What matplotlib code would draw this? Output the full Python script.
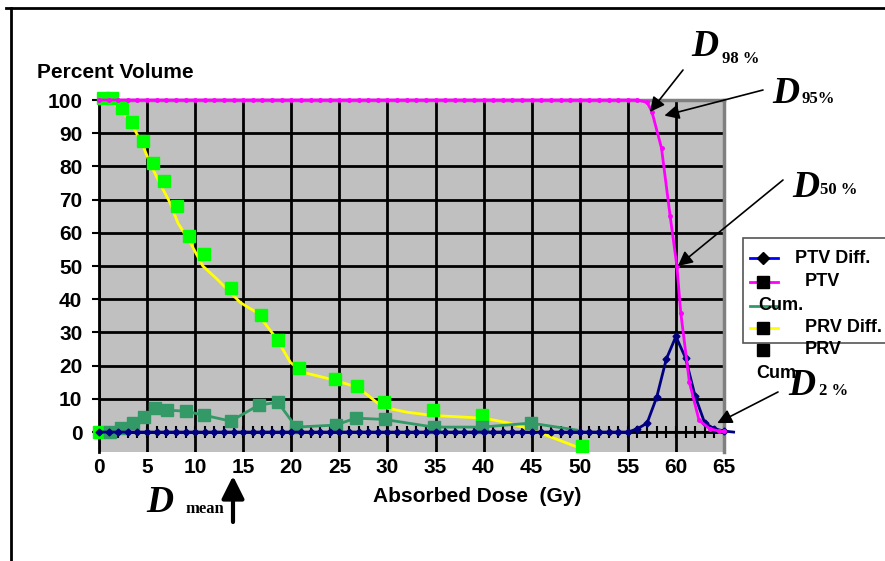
import matplotlib
matplotlib.use("Agg")
import matplotlib.pyplot as plt
from matplotlib.patches import Rectangle
from matplotlib.lines import Line2D
from matplotlib.ticker import MultipleLocator
import numpy as np

# ---- data ----
ptv_diff_x = list(range(0, 67))
ptv_diff_y = [0] * 56 + [1, 2.7, 10.5, 22, 28.8, 22.3, 10.8, 2.7, 1, 0.3, 0]

ptv_cum_x = list(range(0, 57)) + [57, 57.5, 58.5, 59.4, 60.1, 60.5, 61.4, 62.4, 63.5, 64.5, 65]
ptv_cum_y = [100] * 57 + [99.3, 96.5, 85.5, 65, 50, 36, 15, 3.6, 1, 0.3, 0.2]

prv_diff_x = [0.2, 1.1, 2.3, 3.5, 4.7, 5.8, 7.1, 9, 10.9, 13.7, 16.6, 18.6, 20.5,
              24.6, 26.7, 29.7, 34.8, 39.8, 44.9, 49.7]
prv_diff_y = [0, 0, 1.2, 2.7, 4.5, 7.2, 6.6, 6.3, 5.1, 3.3, 8.1, 9, 1.5,
              2.1, 4.2, 3.8, 1.5, 1.5, 2.7, 0.6]

prv_cum_x = [0, 1, 1.7, 3.2, 4.6, 5.3, 6.4, 7.4, 8.2, 9.5, 10.8, 12.3, 14.7, 16.4, 18.5,
             19.9, 21.2, 24, 26.8, 28, 29.5, 32, 34.7, 40, 42.5, 45.1, 50]
prv_cum_y = [99.6, 99.6, 98.5, 94, 86, 81, 74.5, 69, 63, 57, 50, 46, 39, 36, 28,
             21, 18, 16, 13.6, 11, 7.5, 6, 5, 4.2, 2.8, 0.6, -4.8]

prv_pts_x = [0, 0.4, 1.3, 2.4, 3.4, 4.6, 5.6, 6.8, 8.1, 9.4, 10.9, 13.7, 16.8, 18.6,
             20.8, 24.5, 26.8, 29.6, 34.7, 39.8, 50.2]
prv_pts_y = [0, 100.5, 100.5, 97.6, 93.4, 87.6, 81, 75.6, 68, 59, 53.6, 43.4, 35.2, 27.7,
             19.3, 16, 13.9, 9, 6.6, 5.1, -4.2]

xticks = list(range(0, 70, 5))
yticks = list(range(0, 110, 10))

W, H = 885, 561


def P(x, y):
    # pixel position (origin top-left) -> figure fraction
    return (x / W, 1 - y / H)


fig = plt.figure(figsize=(8.85, 5.61), dpi=100)
ax = fig.add_axes([99 / W, 1 - 452 / H, 625 / W, 352 / H])
ax.set_facecolor("#c0c0c0")
ax.set_xlim(0, 65)
ax.set_ylim(-6, 100)
ax.set_xticks(xticks)
ax.set_yticks(yticks)
ax.grid(True, color="black", lw=2)
ax.set_axisbelow(True)
for s in ["top", "right"]:
    ax.spines[s].set_color("#808080")
    ax.spines[s].set_linewidth(2.5)
ax.spines["left"].set_linewidth(2)
ax.spines["bottom"].set_visible(False)

sans = "Liberation Sans"
serif = "Liberation Serif"
ax.tick_params(axis="x", length=0, pad=4)
ax.tick_params(axis="y", length=5, width=1.5, pad=7)
for lab in ax.get_xticklabels() + ax.get_yticklabels():
    lab.set_fontfamily(sans)
    lab.set_fontweight("bold")
    lab.set_fontsize(15)

# x axis with crossing ticks at y = 0
sec = ax.secondary_xaxis(0, transform=ax.transData)
sec.spines["bottom"].set_linewidth(1.5)
sec.xaxis.set_major_locator(MultipleLocator(5))
sec.xaxis.set_minor_locator(MultipleLocator(1))
sec.tick_params(which="both", direction="inout", length=8, width=1.5, labelbottom=False)

# series
ax.plot(prv_cum_x, prv_cum_y, color="#ffff00", lw=2, zorder=3)
ax.plot(prv_pts_x, prv_pts_y, ls="none", marker="s", ms=8, color="#00ff00", zorder=4,
        clip_on=False)
ax.plot(prv_diff_x, prv_diff_y, color="#339966", lw=2, marker="s", ms=8,
        markevery=list(range(1, len(prv_diff_x) - 1)), zorder=4)
ax.plot(ptv_diff_x, ptv_diff_y, color="#000080", lw=2, marker="D", ms=3.5,
        markevery=list(range(len(ptv_diff_x) - 1)), zorder=5, clip_on=False)
ax.plot(ptv_cum_x, ptv_cum_y, color="#ff00ff", lw=2, marker="o", ms=2.5,
        zorder=6, clip_on=False)

# axis titles
fig.text(*P(37, 72), "Percent Volume", fontfamily=sans, fontweight="bold",
         fontsize=15, ha="left", va="center")
fig.text(*P(477, 497), "Absorbed Dose  (Gy)", fontfamily=sans, fontweight="bold",
         fontsize=15, ha="center", va="center")


# D labels
def dlabel(xd, yd, sub, xs, ys):
    fig.text(*P(xd, yd), "D", fontfamily=serif, fontweight="bold", fontstyle="italic",
             fontsize=27, ha="left", va="baseline")
    fig.text(*P(xs, ys), sub, fontfamily=serif, fontweight="bold",
             fontsize=12, ha="left", va="baseline")


dlabel(691, 56, "98 %", 722, 63)
dlabel(772, 103, "95%", 802, 103)
dlabel(792, 197, "50 %", 820, 194)
dlabel(788, 395, "2 %", 819, 395)
dlabel(146, 512, "mean", 185, 513)

arrow = dict(arrowstyle="-|>", color="black", lw=1.2, mutation_scale=22,
             shrinkA=0, shrinkB=0)
for head, tail in [((57.3, 96.4), (683, 70)), ((58.8, 95.3), (763, 90)),
                   ((60.2, 50), (783, 180)), ((64.3, 2.7), (778, 392))]:
    ax.annotate("", xy=head, xycoords="data", xytext=P(*tail),
                textcoords="figure fraction", arrowprops=arrow, zorder=8,
                annotation_clip=False)
ax.annotate("", xy=P(233, 476), xycoords="figure fraction", xytext=P(233, 522),
            textcoords="figure fraction",
            arrowprops=dict(arrowstyle="-|>", color="black", lw=3, mutation_scale=34,
                            shrinkA=0, shrinkB=0), annotation_clip=False)

# legend box (drawn by hand to mimic the wrapped labels)
fig.patches.append(Rectangle(P(743, 343), 170 / W, 105 / H, transform=fig.transFigure,
                             facecolor="white", edgecolor="#555555", lw=1.2, zorder=9))
leg_rows = [
    (258, "#0000ff", "D", "PTV Diff.", 795),
    (282, "#ff00ff", "s", "PTV", 805),
    (306, "#339966", None, "Cum.", 758),
    (328, "#ffff00", "s", "PRV Diff.", 805),
    (350, None, "s", "PRV", 805),
    (373, None, None, "Cum.", 756),
]
for y, col, mk, txt, tx in leg_rows:
    if col is not None:
        fig.lines.append(Line2D([750 / W, 778 / W], [1 - y / H] * 2, color=col, lw=2,
                                transform=fig.transFigure, zorder=10))
    if mk is not None:
        fig.lines.append(Line2D([763 / W], [1 - y / H], marker=mk, color="black",
                                ms=6 if mk == "D" else 9, ls="none",
                                transform=fig.transFigure, zorder=11))
    fig.text(*P(tx, y), txt, fontfamily=sans, fontweight="bold", fontsize=13,
             ha="left", va="center", zorder=12)

# outer frame
fig.lines.append(Line2D([6 / W, 1], [1 - 8 / H] * 2, color="black", lw=2,
                        transform=fig.transFigure))
fig.lines.append(Line2D([11 / W] * 2, [1 - 8 / H, 0], color="black", lw=2,
                        transform=fig.transFigure))

fig.savefig("out.png", dpi=100)
